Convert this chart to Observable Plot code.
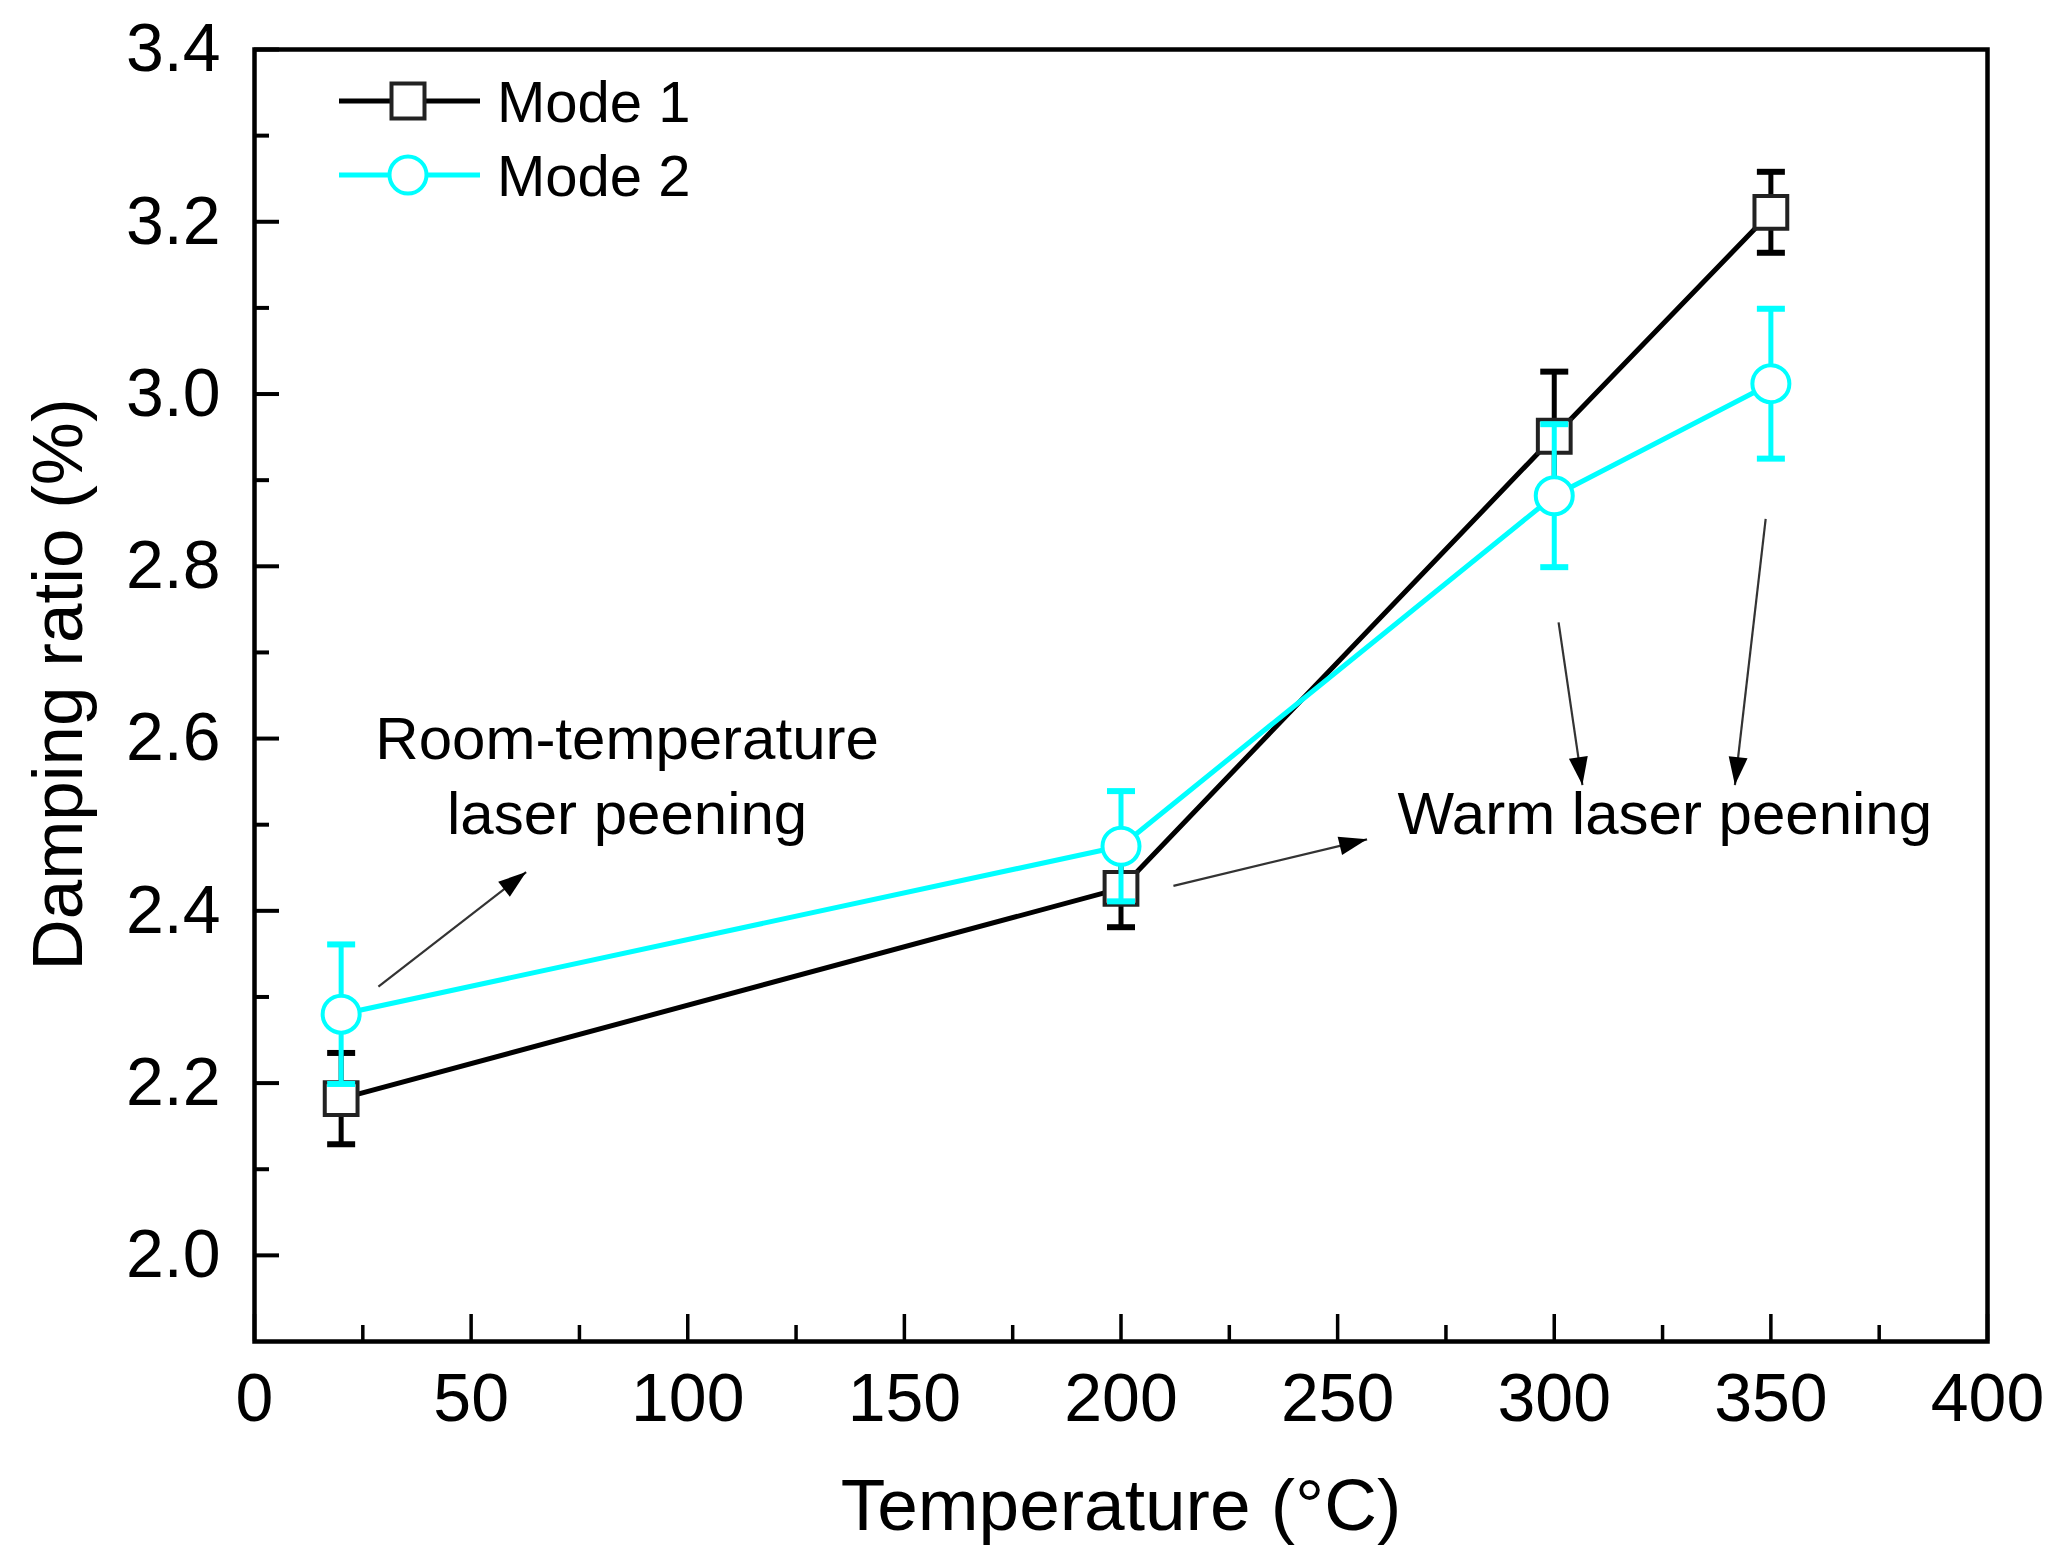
<!DOCTYPE html>
<html>
<head>
<meta charset="utf-8">
<script src="https://cdn.jsdelivr.net/npm/d3@7"></script>
<script src="https://cdn.jsdelivr.net/npm/@observablehq/plot@0.6"></script>
<style>
  html, body { margin: 0; padding: 0; background: #fff; }
  #chart { width: 2059px; height: 1551px; }
</style>
</head>
<body>
<div id="chart"></div>
<script>
// ---------- data ----------
const temperatures = [20, 200, 300, 350];
const mode1 = [2.182, 2.426, 2.951, 3.211];
const mode1Err = [0.053, 0.045, 0.075, 0.047];
const mode2 = [2.280, 2.475, 2.882, 3.012];
const mode2Err = [0.081, 0.064, 0.083, 0.087];

const seriesNames = ["Mode 1", "Mode 2"];
const seriesColors = ["#000000", "#00FFFF"];

const xTicks = [0, 50, 100, 150, 200, 250, 300, 350, 400];
const xMinorTicks = [25, 75, 125, 175, 225, 275, 325, 375];
const yTicks = [2.0, 2.2, 2.4, 2.6, 2.8, 3.0, 3.2, 3.4];
const yMinorTicks = [2.1, 2.3, 2.5, 2.7, 2.9, 3.1, 3.3];

const xLabel = "Temperature (°C)";
const yLabel = "Damping ratio (%)";

const roomAnnotation = [{text: "Room-temperature\nlaser peening", x: 86, y: 2.489}];
const warmAnnotation = [{text: "Warm laser peening", x: 263.8, y: 2.489}];
const arrows = [
  {x1: 28.6, y1: 2.312, x2: 62.7, y2: 2.445},
  {x1: 212.1, y1: 2.429, x2: 256.8, y2: 2.483},
  {x1: 301.0, y1: 2.735, x2: 306.5, y2: 2.546},
  {x1: 348.8, y1: 2.855, x2: 341.7, y2: 2.546}
];

// ---------- build rows ----------
const rows = (vals, errs) => temperatures.map((t, i) => ({t, v: vals[i], lo: vals[i] - errs[i], hi: vals[i] + errs[i]}));
const m1 = rows(mode1, mode1Err);
const m2 = rows(mode2, mode2Err);

const capSymbol = {
  draw(ctx, size) {
    const w = Math.sqrt(size / Math.PI);
    ctx.moveTo(-w, 0);
    ctx.lineTo(w, 0);
  }
};

const FONT = "Arial, 'Liberation Sans', sans-serif";
const W = 2059, H = 1551;
const mL = 254, mR = 72, mT = 49, mB = 210;

const seriesMarks = (data, color, symbol) => [
  Plot.line(data, {x: "t", y: "v", stroke: color, strokeWidth: 5}),
  Plot.ruleX(data, {x: "t", y1: "lo", y2: "hi", stroke: color, strokeWidth: 5}),
  Plot.dot(data, {x: "t", y: "hi", symbol: capSymbol, r: 14, stroke: color, strokeWidth: 6, fill: "none"}),
  Plot.dot(data, {x: "t", y: "lo", symbol: capSymbol, r: 14, stroke: color, strokeWidth: 6, fill: "none"}),
  Plot.dot(data, {x: "t", y: "v", symbol, r: 18.5, stroke: color === "#000000" ? "#222" : color, strokeWidth: 4, fill: "white"})
];

const chart = Plot.plot({
  width: W,
  height: H,
  marginLeft: mL,
  marginRight: mR,
  marginTop: mT,
  marginBottom: mB,
  style: {fontFamily: FONT, fontSize: "68px", color: "black", background: "white", overflow: "visible"},
  x: {domain: [0, 400], label: null},
  y: {domain: [1.9, 3.4], label: null},
  marks: [
    // inward ticks
    Plot.axisY(yTicks, {tickSize: -25, fill: "none", strokeWidth: 4, label: null}),
    Plot.axisY(yMinorTicks, {tickSize: -15, fill: "none", strokeWidth: 4, label: null}),
    Plot.axisX(xTicks, {tickSize: -27, fill: "none", strokeWidth: 3.5, label: null}),
    Plot.axisX(xMinorTicks, {tickSize: -16, fill: "none", strokeWidth: 3.5, label: null}),
    // tick labels
    Plot.axisY(yTicks, {tickSize: 0, tickPadding: 34, tickFormat: ".1f", fontSize: 68, label: null}),
    Plot.axisX(xTicks, {tickSize: 0, tickPadding: 31, fontSize: 68, label: null}),
    // axis titles
    Plot.text([yLabel], {text: d => d, frameAnchor: "left", rotate: -90, dx: -195, dy: -11, fontSize: 71, lineAnchor: "middle", textAnchor: "middle"}),
    Plot.text([xLabel], {text: d => d, frameAnchor: "bottom", dy: 188, fontSize: 73, lineAnchor: "bottom", textAnchor: "middle"}),
    // annotations
    Plot.link(arrows, {x1: "x1", y1: "y1", x2: "x2", y2: "y2", stroke: "#333", strokeWidth: 2.2}),
    Plot.text(roomAnnotation, {x: "x", y: "y", text: "text", textAnchor: "middle", lineAnchor: "bottom", lineHeight: 1.26, fontSize: 60}),
    Plot.text(warmAnnotation, {x: "x", y: "y", text: "text", textAnchor: "start", lineAnchor: "bottom", fontSize: 60}),
    // data
    ...seriesMarks(m1, seriesColors[0], "square"),
    ...seriesMarks(m2, seriesColors[1], "circle"),
    Plot.frame({stroke: "black", strokeWidth: 4.5})
  ]
});

document.getElementById("chart").appendChild(chart);

// ---------- arrowheads ----------
const svg = d3.select(chart);
const defs = svg.insert("defs", ":first-child");
defs.append("marker")
  .attr("id", "ahead")
  .attr("viewBox", "-30 -12 32 24")
  .attr("refX", 0).attr("refY", 0)
  .attr("markerWidth", 32).attr("markerHeight", 24)
  .attr("markerUnits", "userSpaceOnUse")
  .attr("orient", "auto")
  .append("path")
  .attr("d", "M0,0L-28,-9.5L-28,9.5Z")
  .attr("fill", "#000");
svg.selectAll('g[aria-label="link"] path').attr("marker-end", "url(#ahead)");

// ---------- legend (inside frame, top-left) ----------
const leg = svg.append("g").attr("aria-label", "legend").attr("text-anchor", "start");
const legendRows = [
  {name: seriesNames[0], color: seriesColors[0], symbol: "square", dy: 52},
  {name: seriesNames[1], color: seriesColors[1], symbol: "circle", dy: 126}
];
legendRows.forEach(r => {
  const y = mT + r.dy;
  const cx = mL + 154;
  leg.append("line").attr("x1", mL + 85).attr("x2", mL + 226).attr("y1", y).attr("y2", y)
    .attr("stroke", r.color).attr("stroke-width", 5);
  if (r.symbol === "square") {
    leg.append("rect").attr("x", cx - 16.5).attr("y", y - 17.5).attr("width", 33).attr("height", 35)
      .attr("fill", "white").attr("stroke", "#222").attr("stroke-width", 4);
  } else {
    leg.append("circle").attr("cx", cx).attr("cy", y).attr("r", 18.5)
      .attr("fill", "white").attr("stroke", r.color).attr("stroke-width", 4);
  }
  leg.append("text").attr("x", mL + 243).attr("y", y + 21)
    .attr("text-anchor", "start")
    .attr("font-family", FONT).attr("font-size", 58).attr("fill", "black")
    .text(r.name);
});
</script>
</body>
</html>
